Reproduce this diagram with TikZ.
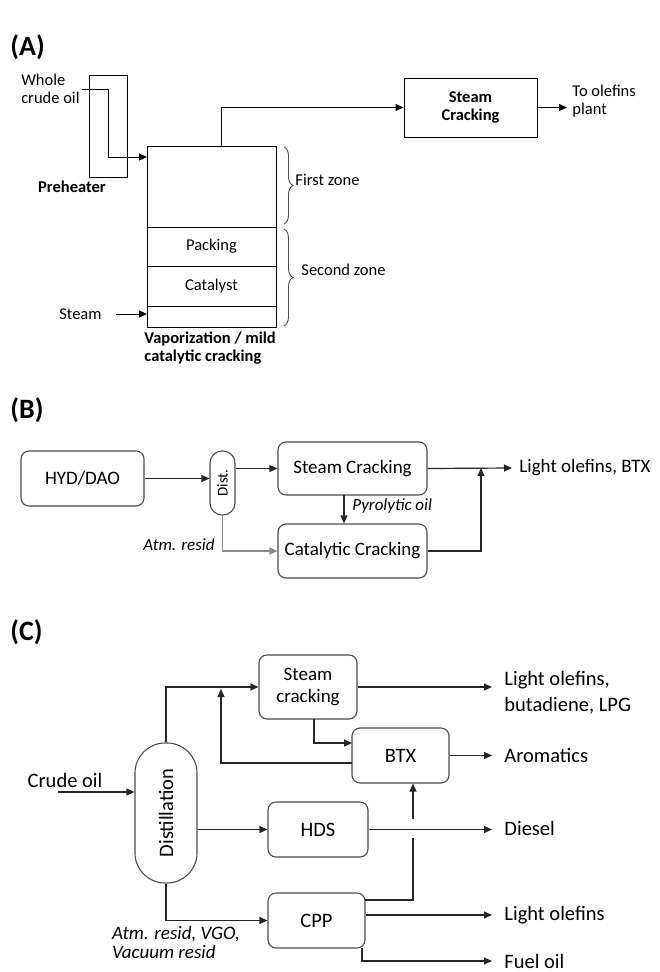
\documentclass[tikz,border=0pt]{standalone}
\usepackage{fontspec}
\setmainfont{Carlito}
\usepackage{graphicx}
\usetikzlibrary{positioning,arrows.meta,decorations.pathreplacing}

\newcommand\sizeA{\fontsize{16.5}{18}\selectfont}
\newcommand\sizeB{\fontsize{19}{22}\selectfont}
\newcommand\sizeC{\fontsize{20.5}{26}\selectfont}

\begin{document}
\begin{tikzpicture}[
    x = 1pt,
    y = -1pt,
    line width=0.9pt,
    >={Triangle[length=8pt,width=7pt]},
    panel/.style = {anchor=west, inner sep=0pt,
              font=\fontsize{28}{30}\selectfont\bfseries},
    txta/.style = {font=\sizeA, inner sep=2pt},
    txtabold/.style = {font=\sizeA\bfseries, inner sep=2pt},
    layer/.style = {draw, minimum width=129, inner sep=0pt, outer sep=0pt,
              font=\sizeA},
    unit/.style = {draw, minimum width=133, minimum height=59, inner sep=0pt,
              align=center, font=\sizeA\bfseries},
    brace/.style = {decorate, decoration={brace, amplitude=9pt}, black!70},
    block/.style = {draw=black!70, rounded corners=8pt, line width=1.1pt,
              inner sep=0pt, align=center},
    blockb/.style = {block, font=\sizeB},
    blockc/.style = {block, font=\sizeC},
    flow/.style = {->, line width=1.2pt, black!85},
    tagb/.style = {font=\fontsize{17}{19}\selectfont\itshape, inner sep=2pt},
    tagc/.style = {font=\fontsize{19}{19}\selectfont\itshape, inner sep=2pt},
    outc/.style = {anchor=west, inner xsep=12pt, inner ysep=2pt, align=left,
              font=\sizeC},
    ]

\useasboundingbox (0,0) rectangle (659,972);

% (A)
\node[panel] (lbl_a) at (10,47) {(A)};

\node[draw, minimum width=38, minimum height=102, inner sep=0pt] (preheater) at (108,126) {};
\node[txtabold] (preheat_lbl) at (72,187) {Preheater};
\node[txta, align=left, anchor=east] (crude_a) at (82,89) {Whole\\crude oil};

\node[layer, minimum height=81] (zone_1) at (211.5,186.5) {};
\node[layer, minimum height=39, below=0pt of zone_1] (packing) {Packing};
\node[layer, minimum height=40, below=0pt of packing] (catalyst) {Catalyst};
\node[layer, minimum height=21, below=0pt of catalyst] (bottom) {};
\node[txtabold, align=left, anchor=north west] (vap_lbl) at (142,329) {Vaporization / mild\\catalytic cracking};
\node[txta, anchor=east] (steam_a) at (104,314) {Steam};

\node[unit] (cracker_a) at (470.5,107.5) {Steam\\Cracking};
\node[txta, align=left, anchor=west, inner xsep=5pt] (olefin_a) at (567,101) {To olefins\\plant};

\node[txta, anchor=west] (zone_1_lbl) at (293,180) {First zone};
\node[txta, anchor=west] (zone_2_lbl) at (299,270) {Second zone};

\coordinate (ph_turn) at (108,157);
\coordinate (vap_out) at (221,146);

\draw[->] (crude_a.east) -| (ph_turn) -- (ph_turn -| zone_1.west);
\draw[->] ([xshift=12pt]steam_a.east) -- (steam_a.east -| bottom.west);
\draw[->] (vap_out) |- (cracker_a.west);
\draw[->] (cracker_a.east) -- (cracker_a.east -| olefin_a.west);
\draw[brace] (284,147) -- (284,224);
\draw[brace] (284,229) -- (284,326);

% (B)
\node[panel] (lbl_b) at (10,410) {(B)};

\node[blockb, minimum width=123, minimum height=55] (hyd) at (82.5,478.5) {HYD/DAO};
\node[block, rounded corners=12pt, minimum width=25, minimum height=64,
      font=\fontsize{15}{15}\selectfont] (dist_b) at (222.5,483) {\rotatebox{90}{Dist.}};
\node[blockb, minimum width=149, minimum height=53] (steam_b) at (352.5,468.5) {Steam Cracking};
\node[blockb, minimum width=149, minimum height=54] (cat_b) at (352.5,551) {Catalytic Cracking};
\node[font=\sizeB, anchor=west, inner xsep=7pt] (prod_b) at (512,468) {Light olefins, BTX};
\node[tagb, anchor=east] (atm_b) at (217,545) {Atm. resid};
\node[tagb, anchor=west] (pyro_b) at (350,506) {Pyrolytic oil};

\coordinate (pyro_top) at (344,495);
\coordinate (merge_b) at (481,468);

\draw[flow] (hyd.east) -- (hyd.east -| dist_b.west);
\draw[flow] (dist_b.east |- steam_b.west) -- (steam_b.west);
\draw[flow, black!45] (dist_b.south) |- (cat_b.west);
\draw[flow] (pyro_top) -- (pyro_top |- cat_b.north);
\draw[flow] (steam_b.east) -- (prod_b.west);
\draw[flow] (cat_b.east) -| (merge_b);

% (C)
\node[panel] (lbl_c) at (10,632) {(C)};

\node[blockc, rounded corners=30pt, minimum width=62, minimum height=140] (dist_c) at (166,813) {\rotatebox{90}{Distillation}};
\node[blockc, minimum width=98, minimum height=64, font=\fontsize{19}{22}\selectfont] (steam_c) at (308,687) {Steam\\cracking};
\node[blockc, minimum width=97, minimum height=55] (btx) at (400.5,755.5) {BTX};
\node[blockc, minimum width=100, minimum height=55] (hds) at (318,829.5) {HDS};
\node[blockc, minimum width=97, minimum height=55] (cpp) at (316.5,920.5) {CPP};

\node[font=\sizeC] (crude_c) at (65,780) {Crude oil};
\node[tagc, align=left] (atm_c) at (176,942) {Atm. resid, VGO,\\Vacuum resid};

\node[outc] (olefin_c) at (492,693) {Light olefins,\\butadiene, LPG};
\node[outc] (arom) at (492,755) {Aromatics};
\node[outc] (diesel) at (492,828) {Diesel};
\node[outc] (light_c) at (492,915) {Light olefins};
\node[outc] (fuel) at (492,961) {Fuel oil};

\coordinate (crude_in) at (58,792);
\coordinate (recycle) at (221,689);
\coordinate (btx_back) at (352,763);
\coordinate (sc_drop) at (314,719);
\coordinate (btx_in) at (352,743);
\coordinate (cpp_top) at (365,900);
\coordinate (hop_lo) at (413,838);
\coordinate (hop_hi) at (413,819);
\coordinate (cpp_foot) at (362,948);

\draw[flow] (crude_in) -- (crude_in -| dist_c.west);
\draw[flow] (dist_c.north) |- (steam_c.west);
\draw[flow] (btx_back) -| (recycle);
\draw[flow] (sc_drop) |- (btx_in);
\draw[flow] (steam_c.east) -- (steam_c.east -| olefin_c.west);
\draw[flow] (btx.east) -- (btx.east -| arom.west);
\draw[flow] (dist_c.east |- hds.west) -- (hds.west);
\draw[flow] (hds.east) -- (hds.east -| diesel.west);
\draw[flow] (dist_c.south) |- (cpp.west);
\draw[line width=1.2pt, black!85] (cpp_top) -| (hop_lo);
\draw[flow] (hop_hi) -- (hop_hi |- btx.south);
\draw[flow] (cpp.east |- light_c.west) -- (light_c.west);
\draw[flow] (cpp_foot) |- (fuel.west);

\end{tikzpicture}
\end{document}
